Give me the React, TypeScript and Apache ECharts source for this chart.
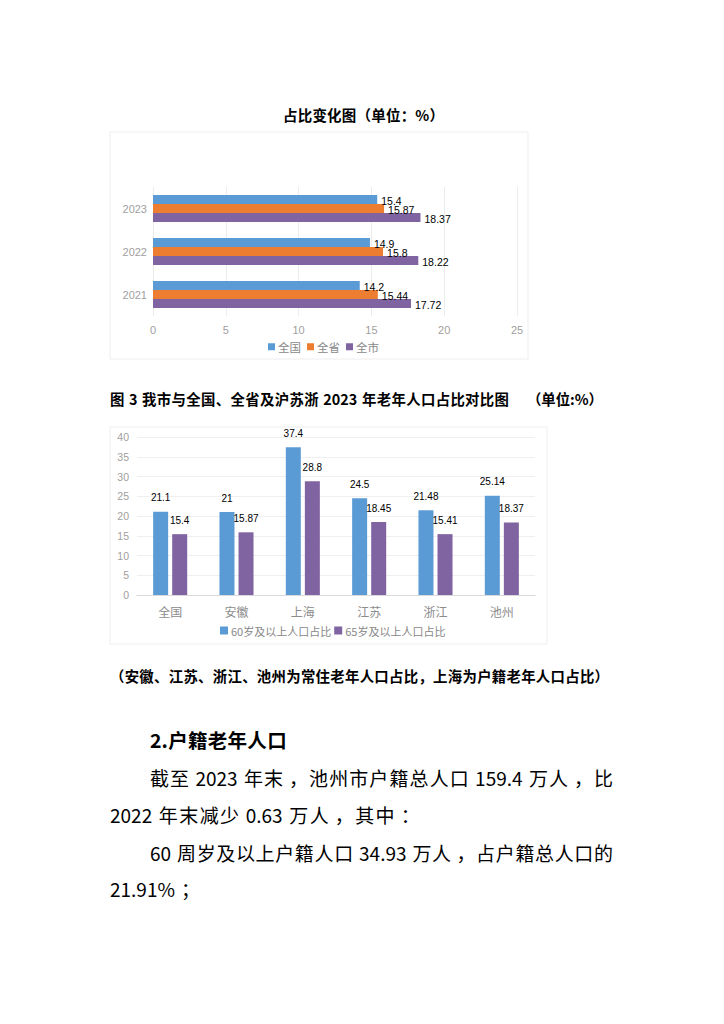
import React, { useEffect, useRef } from "react";
import * as echarts from "echarts";

// Chart 1: 占比变化图
const years = ["2021", "2022", "2023"];
const nationalShare = [14.2, 14.9, 15.4];
const provinceShare = [15.44, 15.8, 15.87];
const cityShare = [17.72, 18.22, 18.37];
const chart1Legend = ["全国", "全省", "全市"];

// Chart 2: 2023 comparison
const regions = ["全国", "安徽", "上海", "江苏", "浙江", "池州"];
const over60Share = [21.1, 21, 37.4, 24.5, 21.48, 25.14];
const over65Share = [15.4, 15.87, 28.8, 18.45, 15.41, 18.37];
const chart2Legend = ["60岁及以上人口占比", "65岁及以上人口占比"];

// Page texts
const title1 = "占比变化图（单位：%）";
const caption2 = "图 3 我市与全国、全省及沪苏浙 2023 年老年人口占比对比图";
const caption2Unit = "（单位:%）";
const note2 = "（安徽、江苏、浙江、池州为常住老年人口占比，上海为户籍老年人口占比）";
const heading = "2.户籍老年人口";
const bodyLines = [
  "截至 2023 年末，池州市户籍总人口 159.4 万人，比",
  "2022 年末减少 0.63 万人，其中：",
  "60 周岁及以上户籍人口 34.93 万人，占户籍总人口的",
  "21.91%；",
];

const BLUE = "#5B9BD5";
const ORANGE = "#ED7D31";
const PURPLE = "#8064A2";

const SC = "Noto Sans CJK SC";

let ctx: CanvasRenderingContext2D | null = null;
function measure(t: string, size: number, weight: string, family: string) {
  if (!ctx) ctx = document.createElement("canvas").getContext("2d");
  if (!ctx) return t.length * size;
  ctx.font = `${weight} ${size}px "${family}"`;
  return ctx.measureText(t).width;
}

// lays out one line of text token by token; if x1 is given the line is justified to it
function layoutText(
  text: string,
  x0: number,
  x1: number | null,
  y: number,
  size: number,
  weight: string,
  gap: number,
  centeredPunct: boolean
) {
  const tokens: { t: string; space: boolean; shift: number }[] = [];
  let pendingSpace = false;
  for (const ch of text) {
    if (ch === " ") {
      pendingSpace = true;
      continue;
    }
    const ascii = /[\x21-\x7e]/.test(ch);
    const last = tokens[tokens.length - 1];
    if (ascii && last && /[\x21-\x7e]$/.test(last.t) && !pendingSpace) {
      last.t += ch;
    } else {
      const punct = "，：；".includes(ch);
      tokens.push({ t: ch, space: pendingSpace, shift: centeredPunct && punct ? 0.25 * size : 0 });
    }
    pendingSpace = false;
  }
  const spaceW = measure(" ", size, weight, SC) + 1;
  const widths = tokens.map((k) => measure(k.t, size, weight, SC));
  let natural = 0;
  tokens.forEach((k, i) => {
    natural += widths[i] + k.shift + (i > 0 && k.space ? spaceW : 0);
  });
  let g = gap;
  if (x1 !== null && tokens.length > 1) g = (x1 - x0 - natural) / (tokens.length - 1);
  const out: any[] = [];
  let x = x0;
  tokens.forEach((k, i) => {
    if (i > 0) x += g + (k.space ? spaceW : 0);
    x += k.shift;
    out.push({
      type: "text",
      style: {
        text: k.t, x, y, align: "left", verticalAlign: "middle",
        fontSize: size, fontWeight: weight, fontFamily: SC, fill: "#000",
      },
    });
    x += widths[i];
  });
  return out;
}

export default function App() {
  const ref = useRef<HTMLDivElement>(null);
  useEffect(() => {
    if (!ref.current) return;
    const chart = echarts.init(ref.current, undefined, { renderer: "svg" });

    const graphics: any[] = [
      {
        type: "rect",
        shape: { x: 110, y: 132, width: 418, height: 227 },
        style: { fill: "none", stroke: "#eeeeee", lineWidth: 1 },
        z: -1,
      },
      {
        type: "rect",
        shape: { x: 110, y: 427, width: 437, height: 217 },
        style: { fill: "none", stroke: "#eeeeee", lineWidth: 1 },
        z: -1,
      },
      ...layoutText(title1, 283, 444, 114, 14.5, "bold", 0, false),
      ...layoutText(caption2, 110, 509, 398, 14.4, "bold", 0, false),
      {
        type: "text",
        style: {
          text: caption2Unit,
          x: 603, y: 398, align: "right", verticalAlign: "middle",
          fontSize: 14.4, fontWeight: "bold", fontFamily: SC, fill: "#000",
        },
      },
      ...layoutText(note2, 110, 609, 675, 14.4, "bold", 0, false),
      ...layoutText(heading, 150, null, 739, 19.5, "bold", 0.3, false),
      ...layoutText(bodyLines[0], 150, 613, 777, 19, "normal", 0, true),
      ...layoutText(bodyLines[1], 110, null, 814, 19, "normal", 1.4, true),
      ...layoutText(bodyLines[2], 150, 613, 852, 19, "normal", 0, true),
      ...layoutText(bodyLines[3], 110, null, 888, 19, "normal", 1.4, true),
    ];

    const hLabel = {
      show: true,
      position: "right",
      distance: 4,
      offset: [0, 1.5],
      color: "#000",
      fontSize: 10.5,
      fontFamily: "Liberation Sans",
    };
    const vLabel = {
      show: true,
      position: "top",
      distance: 9,
      color: "#000",
      fontSize: 10,
      fontFamily: "Liberation Sans",
    };

    chart.setOption({
      animation: false,
      backgroundColor: "#fff",
      graphic: graphics,
      legend: [
        {
          data: chart1Legend,
          left: 263,
          top: 336,
          itemWidth: 7,
          itemHeight: 7,
          itemGap: 6,
          icon: "rect",
          textStyle: { color: "#888", fontSize: 11.5, fontFamily: SC, padding: [0, 0, 0, -2] },
        },
        {
          data: chart2Legend,
          left: 215,
          top: 620,
          itemWidth: 8,
          itemHeight: 8,
          itemGap: 3,
          icon: "rect",
          textStyle: { color: "#888", fontSize: 11, fontFamily: SC, padding: [0, 0, 0, -2] },
        },
      ],
      grid: [
        { left: 153, top: 187, width: 364, height: 129, containLabel: false },
        { left: 137, top: 437, width: 398, height: 158, containLabel: false },
      ],
      xAxis: [
        {
          gridIndex: 0,
          type: "value",
          min: 0,
          max: 25,
          interval: 5,
          axisLine: { show: false },
          axisTick: { show: false },
          splitLine: { lineStyle: { color: "#ececec" } },
          axisLabel: { color: "#a0a0a0", fontSize: 11, margin: 8, fontFamily: "Liberation Sans" },
        },
        {
          gridIndex: 1,
          type: "category",
          data: regions,
          axisLine: { lineStyle: { color: "#d9d9d9" } },
          axisTick: { show: false },
          axisLabel: { color: "#8c8c8c", fontSize: 12, margin: 10, fontFamily: SC },
        },
      ],
      yAxis: [
        {
          gridIndex: 0,
          type: "category",
          data: years,
          axisLine: { show: false },
          axisTick: { show: false },
          axisLabel: { color: "#a0a0a0", fontSize: 11, margin: 6, fontFamily: "Liberation Sans" },
        },
        {
          gridIndex: 1,
          type: "value",
          min: 0,
          max: 40,
          interval: 5,
          axisLine: { show: false },
          axisTick: { show: false },
          splitLine: { lineStyle: { color: "#efefef" } },
          axisLabel: { color: "#a0a0a0", fontSize: 10.5, margin: 8, fontFamily: "Liberation Sans" },
        },
      ],
      series: [
        {
          name: "全国", type: "bar", xAxisIndex: 0, yAxisIndex: 0,
          data: nationalShare, barWidth: 9, barGap: "0%",
          itemStyle: { color: BLUE }, label: hLabel,
        },
        {
          name: "全省", type: "bar", xAxisIndex: 0, yAxisIndex: 0,
          data: provinceShare, barWidth: 9, barGap: "0%",
          itemStyle: { color: ORANGE }, label: hLabel,
        },
        {
          name: "全市", type: "bar", xAxisIndex: 0, yAxisIndex: 0,
          data: cityShare, barWidth: 9, barGap: "0%",
          itemStyle: { color: PURPLE }, label: hLabel,
        },
        {
          name: chart2Legend[0], type: "bar", xAxisIndex: 1, yAxisIndex: 1,
          data: over60Share, barWidth: 15, barGap: "27%",
          itemStyle: { color: BLUE }, label: vLabel,
        },
        {
          name: chart2Legend[1], type: "bar", xAxisIndex: 1, yAxisIndex: 1,
          data: over65Share, barWidth: 15, barGap: "27%",
          itemStyle: { color: PURPLE }, label: vLabel,
        },
      ],
    });
    return () => chart.dispose();
  }, []);

  return (
    <div
      ref={ref}
      style={{ position: "absolute", left: 0, top: 0, width: 724, height: 1024, background: "#fff" }}
    />
  );
}
